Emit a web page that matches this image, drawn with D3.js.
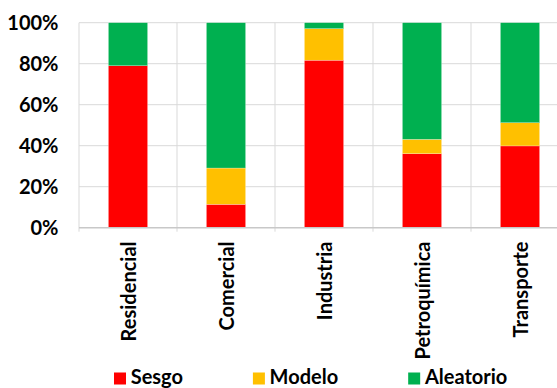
<!DOCTYPE html>
<html>
<head>
<meta charset="utf-8">
<script src="https://cdn.jsdelivr.net/npm/d3@7"></script>
<style>
html,body{margin:0;padding:0;background:#fff;overflow:hidden;}
svg{display:block;}
text{font-family:Lato,"Liberation Sans",sans-serif;font-weight:bold;fill:#000;}
</style>
</head>
<body>
<svg id="chart" width="557" height="388"></svg>
<script>
const categories = ["Residencial","Comercial","Industria","Petroquímica","Transporte"];
const seriesNames = ["Sesgo","Modelo","Aleatorio"];
const sesgo = [0.79, 0.114, 0.817, 0.361, 0.399];
const modelo = [0.0, 0.177, 0.154, 0.070, 0.113];
const aleatorio = [0.21, 0.709, 0.029, 0.569, 0.488];
const colors = ["#FF0000","#FFC000","#00B050"];
const yTicks = [0, 0.2, 0.4, 0.6, 0.8, 1.0];
const yTickLabels = ["0%","20%","40%","60%","80%","100%"];

const svg = d3.select("#chart");
const pLeft = 79, pRight = 569, pTop = 22.7, pBottom = 227.7;

const x = d3.scaleBand().domain(categories).range([pLeft, pRight]).paddingInner(0.6).paddingOuter(0.3);
const y = d3.scaleLinear().domain([0, 1]).range([pBottom, pTop]);

const rows = categories.map((c, i) => ({cat: c, Sesgo: sesgo[i], Modelo: modelo[i], Aleatorio: aleatorio[i]}));
const stacked = d3.stack().keys(seriesNames)(rows);

// gridlines
const grid = svg.append("g");
grid.selectAll("line.h").data(yTicks.slice(1)).join("line")
  .attr("x1", pLeft).attr("x2", pRight)
  .attr("y1", d => y(d)).attr("y2", d => y(d))
  .attr("stroke", "#d9d9d9").attr("stroke-width", 1);
const step = x.step();
const bounds = d3.range(categories.length + 1).map(i => pLeft + i * step);
grid.selectAll("line.v").data(bounds).join("line")
  .attr("x1", d => d).attr("x2", d => d)
  .attr("y1", pTop).attr("y2", pBottom + 4)
  .attr("stroke", "#d9d9d9").attr("stroke-width", 1);

// bars
svg.append("g").selectAll("g").data(stacked).join("g")
  .attr("fill", (d, i) => colors[i])
  .selectAll("rect").data(d => d).join("rect")
  .attr("x", d => x(d.data.cat))
  .attr("width", x.bandwidth())
  .attr("y", d => y(d[1]))
  .attr("height", d => y(d[0]) - y(d[1]))
  .attr("stroke", "rgba(255,255,255,0.5)").attr("stroke-width", 0.5);

// x axis line
svg.append("line").attr("x1", pLeft).attr("x2", pRight).attr("y1", pBottom).attr("y2", pBottom)
  .attr("stroke", "#c8c8c8").attr("stroke-width", 1.5);

// y labels
svg.append("g").selectAll("text").data(yTicks).join("text")
  .attr("x", 58.5).attr("y", d => y(d))
  .attr("dy", "0.36em")
  .attr("text-anchor", "end")
  .style("font-size", "20px")
  .text((d, i) => yTickLabels[i]);

// x labels (rotated)
svg.append("g").selectAll("text").data(categories).join("text")
  .attr("transform", d => `translate(${x(d) + x.bandwidth() / 2 + 7.5},241.5) rotate(-90)`)
  .attr("text-anchor", "end")
  .style("font-size", "20px")
  .text(d => d);

// legend
const legend = svg.append("g");
let lx = 114;
seriesNames.forEach((s, i) => {
  legend.append("rect").attr("x", lx).attr("y", 372.5).attr("width", 12).attr("height", 12).attr("fill", colors[i]);
  const t = legend.append("text").attr("x", lx + 16.7).attr("y", 383.5)
    .style("font-size", "20px").text(s);
  lx += 16.7 + t.node().getComputedTextLength() + 70;
});
</script>
</body>
</html>
